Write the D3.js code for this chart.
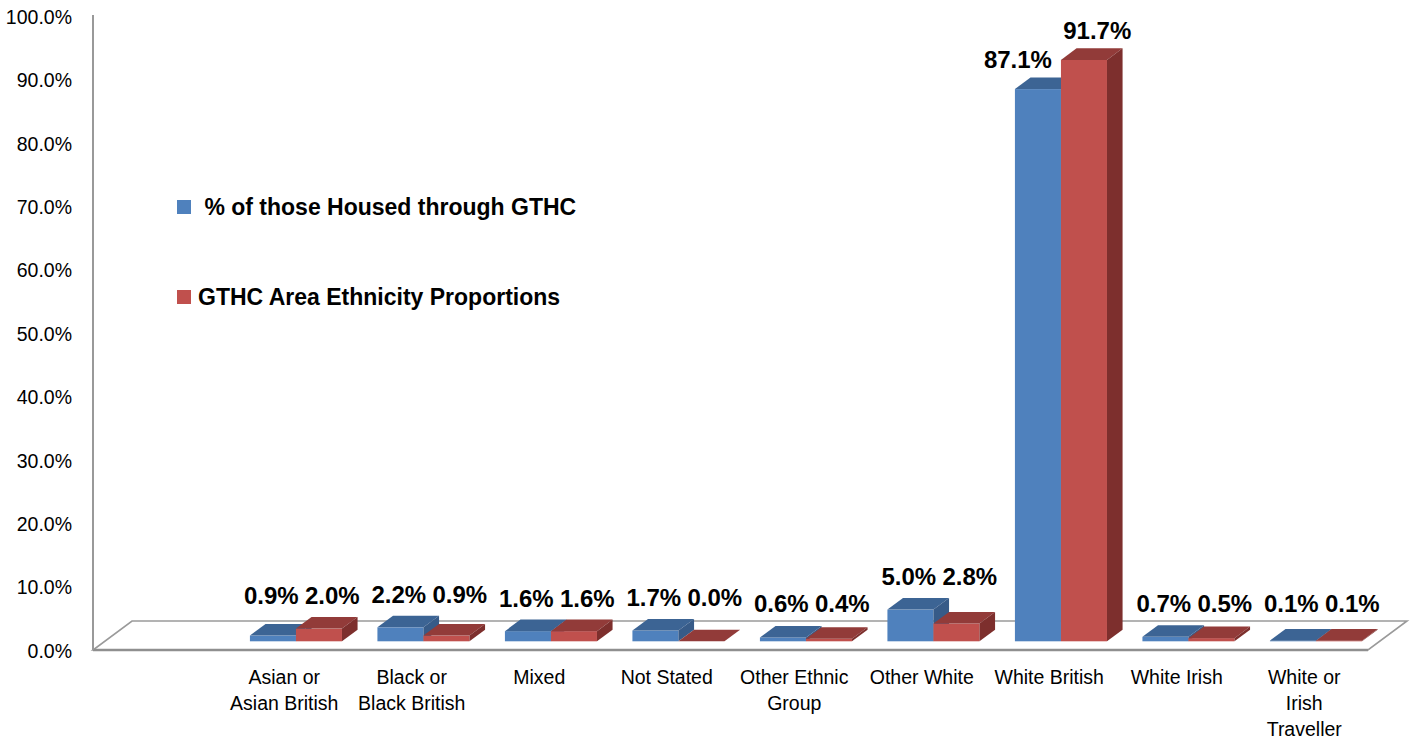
<!DOCTYPE html>
<html><head><meta charset="utf-8">
<script src="https://cdn.jsdelivr.net/npm/d3@7"></script>
<style>
html,body{margin:0;padding:0;background:#fff;}
svg{display:block;font-family:"Liberation Sans",Arial,sans-serif;}
</style></head><body>
<svg id="chart" width="1414" height="740"></svg>
<script>
// Ethnicity categories (first slot intentionally left blank)
const categories = ["", "Asian or\nAsian British", "Black or\nBlack British", "Mixed", "Not Stated",
  "Other Ethnic\nGroup", "Other White", "White British", "White Irish", "White or\nIrish\nTraveller"];
// Percent of those housed through GTHC
const housedPct = [null, 0.9, 2.2, 1.6, 1.7, 0.6, 5.0, 87.1, 0.7, 0.1];
// GTHC area ethnicity proportions
const areaPct = [null, 2.0, 0.9, 1.6, 0.0, 0.4, 2.8, 91.7, 0.5, 0.1];
const seriesNames = [" % of those Housed through GTHC", "GTHC Area Ethnicity Proportions"];
const yTicks = [0, 10, 20, 30, 40, 50, 60, 70, 80, 90, 100];

const series = [
  {name: seriesNames[0], values: housedPct, front: "#4F81BD", top: "#3C6494", side: "#375B88"},
  {name: seriesNames[1], values: areaPct, front: "#C0504D", top: "#923B39", side: "#7D2F2D"}
];

const svg = d3.select("#chart");
const floor = {left: 93, right: 1368, base: 650, dx: 39, dy: -29};
const x = d3.scaleBand().domain(d3.range(categories.length)).range([floor.left, floor.right]);
const y = d3.scaleLinear().domain([0, 100]).range([floor.base, 16]);
const pairW = x.bandwidth() * 0.722;
const xs = d3.scaleBand().domain([0, 1]).range([-pairW / 2, pairW / 2]);
const barW = xs.bandwidth();
// depth placement of bars inside the floor
const fOff = 0.3, fDepth = 0.4;
const offX = floor.dx * fOff, offY = floor.dy * fOff;
const dX = floor.dx * fDepth, dY = floor.dy * fDepth;

// floor
const g = svg.append("g");
const F = floor;
g.append("polygon")
  .attr("points", [[F.left, F.base], [F.right, F.base], [F.right + F.dx, F.base + F.dy], [F.left + F.dx, F.base + F.dy]].join(" "))
  .attr("fill", "none").attr("stroke", "#9a9a9a").attr("stroke-width", 1.6);
g.append("line").attr("x1", F.left).attr("x2", F.right).attr("y1", F.base).attr("y2", F.base)
  .attr("stroke", "#8f8f8f").attr("stroke-width", 2.4);
// vertical axis line
g.append("line").attr("x1", F.left).attr("x2", F.left).attr("y1", y(100) - 1).attr("y2", F.base)
  .attr("stroke", "#999").attr("stroke-width", 2);

// y axis labels
const yAxis = d3.axisLeft(y).tickValues(yTicks).tickFormat(d => d.toFixed(1) + "%").tickSize(0).tickPadding(0);
const ya = svg.append("g").attr("transform", `translate(72,1)`).call(yAxis);
ya.select(".domain").remove();
ya.selectAll("text").attr("font-size", 19.5).attr("font-family", "'Liberation Sans', Arial, sans-serif").attr("fill", "#000");

// bars
const bars = svg.append("g");
categories.forEach((c, i) => {
  series.forEach((s, si) => {
    const v = s.values[i];
    if (v == null) return;
    const x0 = x(i) + x.bandwidth() / 2 + xs(si) + offX;
    const yb = y(0) + offY, yt = y(v) + offY;
    const b = bars.append("g");
    b.append("rect").attr("x", x0).attr("y", yt).attr("width", barW).attr("height", Math.max(0, yb - yt)).attr("fill", s.front);
    b.append("polygon").attr("points", [[x0, yt], [x0 + barW, yt], [x0 + barW + dX, yt + dY], [x0 + dX, yt + dY]].join(" "))
      .attr("fill", s.top);
    b.append("polygon").attr("points", [[x0 + barW, yt], [x0 + barW + dX, yt + dY], [x0 + barW + dX, yb + dY], [x0 + barW, yb]].join(" "))
      .attr("fill", s.side);
  });
});

// data labels
const labels = svg.append("g").attr("font-weight", "bold").attr("font-size", 24).attr("fill", "#000");
categories.forEach((c, i) => {
  const vals = series.map(s => s.values[i]);
  if (vals[0] == null) return;
  const small = vals.every(v => v < 10);
  series.forEach((s, si) => {
    const v = vals[si];
    const ref = small ? d3.max(vals) : v;
    const cx = x(i) + x.bandwidth() / 2 + xs(si) + barW / 2;
    let ly = Math.min(y(ref) + offY + dY - (small ? 21 : 18), 604);
    const t = labels.append("text").attr("y", ly).attr("dy", "0.35em").text(v.toFixed(1) + "%");
    const w = t.node().getComputedTextLength();
    let lx = cx + (si === 0 ? 10 : 25);
    if (si === 0 && !small && vals[1] > v) {
      // keep the label clear of the taller neighbouring bar
      const redLeft = x(i) + x.bandwidth() / 2 + xs(1) + offX;
      lx = redLeft - 9 - w / 2;
    }
    t.attr("x", lx).attr("text-anchor", "middle");
  });
});

// category labels
const cats = svg.append("g").attr("font-size", 19.5).attr("fill", "#000").attr("text-anchor", "middle");
categories.forEach((c, i) => {
  if (!c) return;
  const t = cats.append("text").attr("x", x(i) + x.bandwidth() / 2).attr("y", 677).attr("dy", "0.35em");
  c.split("\n").forEach((line, k) => {
    t.append("tspan").attr("x", x(i) + x.bandwidth() / 2).attr("dy", k === 0 ? "0.35em" : 26).text(line);
  });
});

// legend
const leg = svg.append("g").attr("font-weight", "bold").attr("font-size", 23);
const legY = [207, 297];
series.forEach((s, si) => {
  leg.append("rect").attr("x", 177).attr("y", legY[si] - 7).attr("width", 14).attr("height", 14).attr("fill", s.front);
  leg.append("text").attr("x", 198).attr("y", legY[si]).attr("dy", "0.35em")
    .attr("xml:space", "preserve").style("white-space", "pre").text(s.name);
});
</script>
</body></html>
